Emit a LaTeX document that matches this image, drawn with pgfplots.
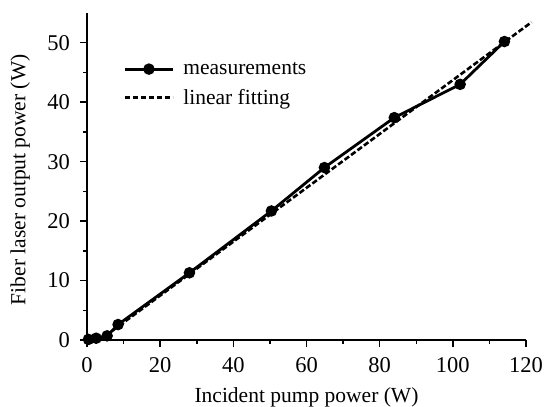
\documentclass[border=0pt]{standalone}
\usepackage{fontspec}
\setmainfont{Liberation Serif}
\usepackage{pgfplots}
\pgfplotsset{compat=1.18}
\pgfplotsset{
  measleg/.style={legend image code/.code={\draw[##1, mark repeat=2, mark phase=2] plot coordinates {(0bp,0bp) (24bp,0bp) (48bp,0bp)};}},
  fitleg/.style={legend image code/.code={\draw[##1] (0bp,0bp) -- (48bp,0bp);}},
}
\begin{document}
\begin{tikzpicture}
\begin{axis}[
  scale only axis,
  width=439bp, height=327bp,
  xmin=0, xmax=120, ymin=0, ymax=55,
  clip=false,
  axis x line*=bottom, axis y line*=left,
  axis line style={-, line width=1.8bp},
  xtick={0,20,...,120}, minor xtick={10,30,...,110},
  ytick={0,10,...,50}, minor ytick={5,15,...,45},
  tick align=outside,
  major tick length=6.5bp, minor tick length=4bp,
  every tick/.style={black, line width=1.5bp},
  /pgf/number format/assume math mode=true,
  tick label style={font=\fontsize{22.5bp}{25bp}\selectfont},
  yticklabel style={anchor=east, xshift=-7bp},
  xticklabel style={anchor=north, yshift=-8bp},
  label style={font=\fontsize{21.5bp}{24bp}\selectfont},
  xlabel={Incident pump power (W)},
  ylabel={Fiber laser output power (W)},
  xlabel style={at={(axis description cs:0.5,-0.176)}, anchor=center},
  ylabel style={at={(axis description cs:-0.152,0.49)}, anchor=center},
  legend style={draw=none, fill=none, at={(0.076,0.862)}, anchor=north west,
    font=\fontsize{21.5bp}{24bp}\selectfont, row sep=9bp,
    /tikz/every odd column/.append style={column sep=7bp}},
  legend cell align=left,
]
\addplot[black, line width=2.8bp, mark=*, mark size=4.3bp, measleg]
coordinates {
(0.4,0.1) (2.5,0.3) (5.5,0.7) (8.5,2.6) (28,11.3) (50.4,21.7) (64.9,29.0) (84.0,37.4) (102,43.0) (114.1,50.2)
};
\addlegendentry{measurements}
\addplot[black, line width=2.6bp, dash pattern=on 5.5bp off 2.5bp, fitleg]
coordinates {(3.5,0) (121.5,53.45)};
\addlegendentry{linear fitting}
\end{axis}
\pgfresetboundingbox
\path[use as bounding box] ([shift={(-87bp,-67bp)}]current axis.south west) rectangle ([shift={(18bp,13bp)}]current axis.north east);
\end{tikzpicture}
\end{document}
